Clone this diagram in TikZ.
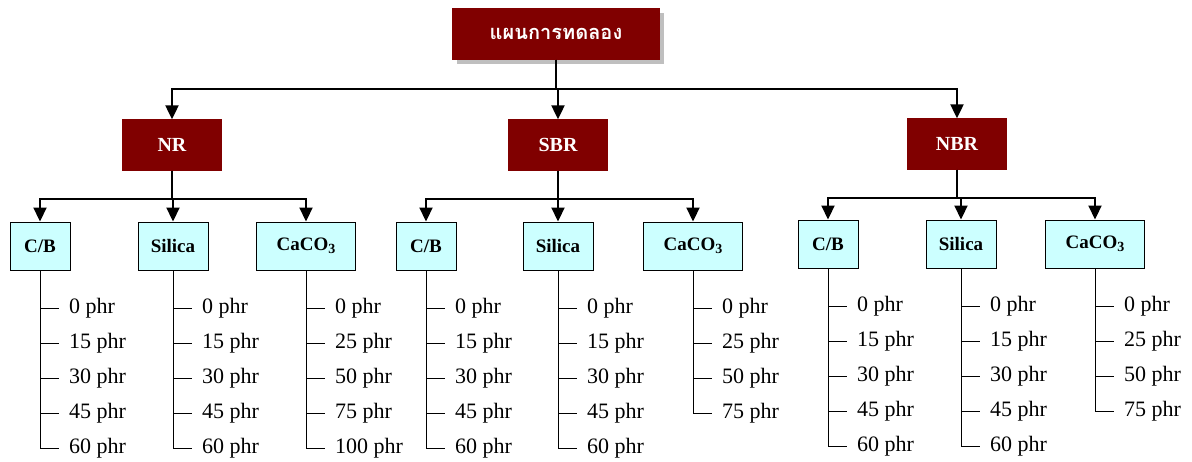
\documentclass[tikz,border=0pt]{standalone}
\usepackage{fontspec}
\setmainfont{Liberation Serif}
\newfontfamily\thaifont[Script=Thai]{Loma}
\usetikzlibrary{arrows.meta,positioning,calc,shadows}
\definecolor{planred}{RGB}{128,0,0}
\definecolor{fillercyan}{RGB}{204,255,255}
\tikzset{head/.style={draw=planred,fill=planred,text=white,font=\bfseries\fontsize{20}{24}\selectfont,minimum width=99pt,minimum height=51pt},
  sub/.style={draw=black,line width=1pt,fill=fillercyan,font=\bfseries\fontsize{19}{23}\selectfont,minimum height=48pt},
  flow/.style={-{Triangle[length=14pt,width=13pt]},line width=2.2pt},
  tree/.style={line width=1pt,shorten >=10pt},
  item/.style={anchor=west,inner sep=0pt,font=\fontsize{22}{26}\selectfont}}
\newcommand\phrlist[2]{%
  \foreach \v [count=\i,evaluate=\i as \dy using 38+35*(\i-1)] in {#2}{%
    \node[item] (#1-\i) at ([xshift=29pt,yshift=-\dy*1pt]#1.south) {\v\ phr};
    \draw[tree] (#1.south) |- (#1-\i.west);}}
\newcommand\caco{CaCO\raisebox{-0.35ex}{\fontsize{14}{16}\selectfont 3}}

\begin{document}
\begin{tikzpicture}[x=1pt,y=-1pt]
\useasboundingbox (0,0) rectangle (1192,461);
% top
\node[head,minimum width=207pt,drop shadow={shadow xshift=4pt,shadow yshift=-4pt,fill=gray}] (plan) at (556,34) {\thaifont\bfseries\fontsize{20}{24}\selectfont แผนการทดลอง};
% rubbers
\node[head] (nr) at (172,145) {NR};
\node[head] (sbr) at (558,145) {SBR};
\node[head] (nbr) at (957,144) {NBR};
\draw[flow] (plan.south) -- ++(0,29) -| (nr.north);
\draw[flow] (plan.south) -- ++(0,29) -| (sbr.north);
\draw[flow] (plan.south) -- ++(0,29) -| (nbr.north);
% fillers
\node[sub,minimum width=60pt] (nrcb) at (40,246) {C/B};
\node[sub,minimum width=70pt] (nrsi) at (173,246) {Silica};
\node[sub,minimum width=99pt] (nrca) at (306,246) {\caco};
\node[sub,minimum width=60pt] (sbrcb) at (426,246) {C/B};
\node[sub,minimum width=70pt] (sbrsi) at (558,246) {Silica};
\node[sub,minimum width=99pt] (sbrca) at (693,246) {\caco};
\node[sub,minimum width=60pt] (nbrcb) at (828,244) {C/B};
\node[sub,minimum width=70pt] (nbrsi) at (961,244) {Silica};
\node[sub,minimum width=99pt] (nbrca) at (1095,244) {\caco};
\foreach \g in {nr,sbr,nbr}{
  \foreach \f in {cb,si,ca}
    \draw[flow] (\g.south) -- ++(0,28) -| (\g\f.north);
}
% amounts
\phrlist{nrcb}{0,15,30,45,60}
\phrlist{nrsi}{0,15,30,45,60}
\phrlist{nrca}{0,25,50,75,100}
\phrlist{sbrcb}{0,15,30,45,60}
\phrlist{sbrsi}{0,15,30,45,60}
\phrlist{sbrca}{0,25,50,75}
\phrlist{nbrcb}{0,15,30,45,60}
\phrlist{nbrsi}{0,15,30,45,60}
\phrlist{nbrca}{0,25,50,75}
\end{tikzpicture}
\end{document}
